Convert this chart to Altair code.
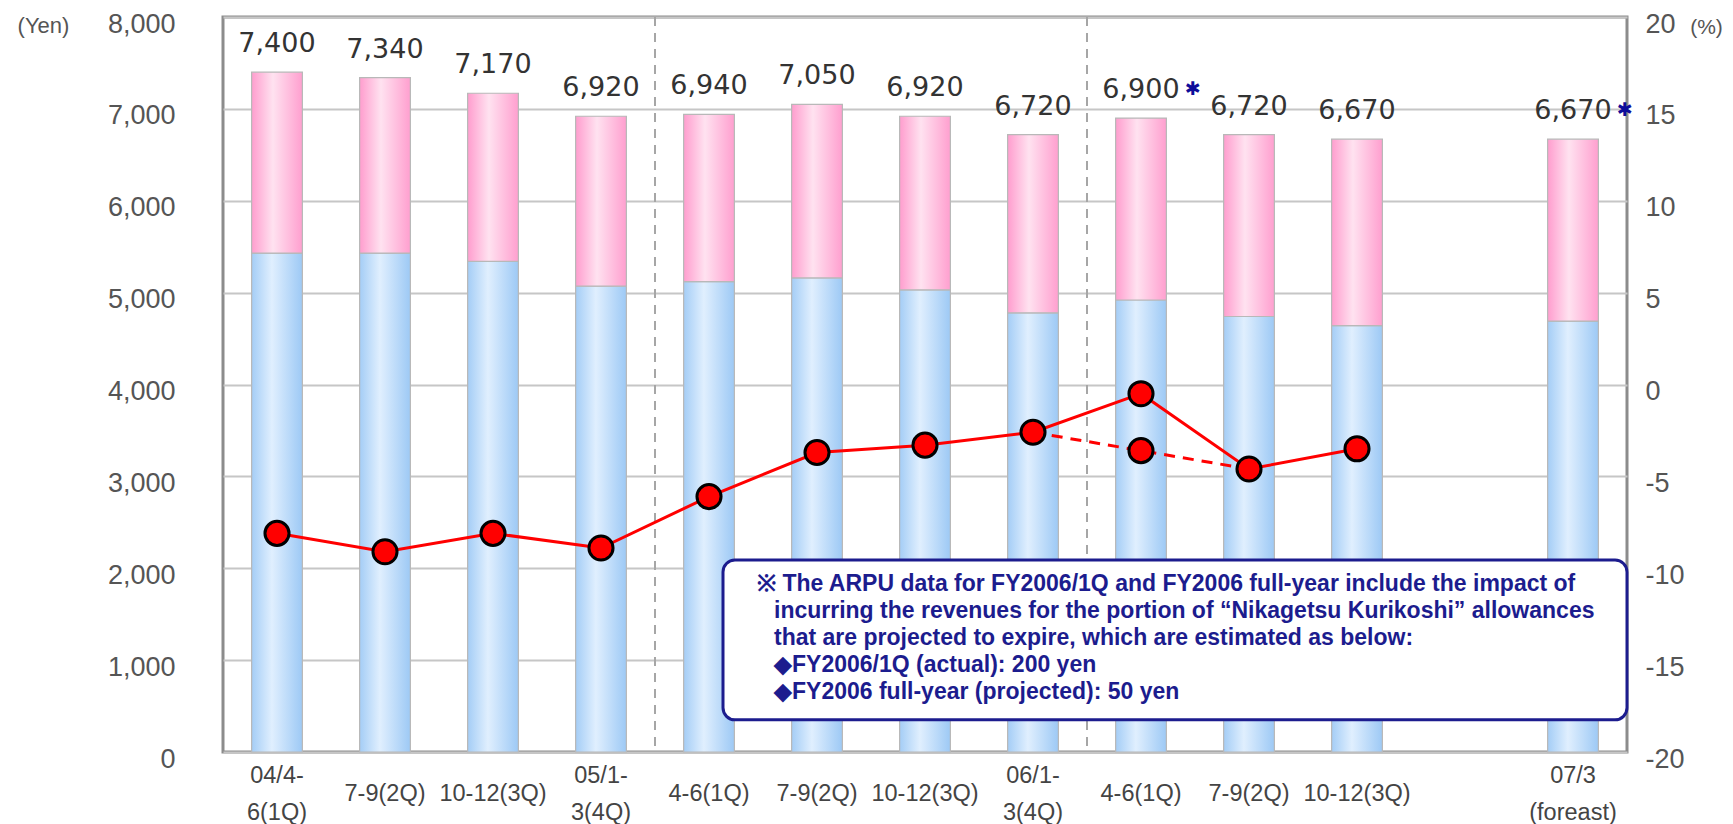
import altair as alt
import pandas as pd

# ---------------- data ----------------
categories = ["04/4-|6(1Q)", "7-9(2Q)", "10-12(3Q)", "05/1-|3(4Q)",
              "4-6(1Q)", "7-9(2Q)", "10-12(3Q)", "06/1-|3(4Q)",
              "4-6(1Q)", "7-9(2Q)", "10-12(3Q)", "", "07/3|(foreast)"]
arpu_total = [7400, 7340, 7170, 6920, 6940, 7050, 6920, 6720, 6900, 6720, 6670, None, 6670]
arpu_base = [5430, 5430, 5340, 5070, 5120, 5160, 5030, 4780, 4920, 4740, 4640, None, 4690]
growth_pct = [-8.1, -9.1, -8.1, -8.9, -6.1, -3.7, -3.3, -2.6, -0.5, -4.6, -3.5, None, None]
adjusted_pct = [None, None, None, None, None, None, None, -2.6, -3.6, -4.6, None, None, None]
starred = [False, False, False, False, False, False, False, False, True, False, False, False, True]
divider_before = [4, 8]
note_lines = [
    "※ The ARPU data for FY2006/1Q and FY2006 full-year include the impact of",
    "incurring the revenues for the portion of “Nikagetsu Kurikoshi” allowances",
    "that are projected to expire, which are estimated as below:",
    "◆FY2006/1Q (actual): 200 yen",
    "◆FY2006 full-year (projected): 50 yen",
]
note_top_yen, note_bottom_yen = 2090, 350

keys = [f"k{i}" for i in range(len(categories))]

# ---------------- layout ----------------
W, H = 1404, 735
STEP = W / len(keys)
FONT = "Liberation Sans"

cat_df = pd.DataFrame({"key": keys, "label": categories})
cat_df = cat_df[cat_df["label"] != ""]

bars = pd.DataFrame({
    "key": keys, "total": arpu_total, "base": arpu_base, "star": starred,
}).dropna(subset=["total"])
bars["label"] = bars["total"].map(lambda v: f"{int(v):,}")

line_df = pd.DataFrame({"key": keys, "pct": growth_pct}).dropna()
dash_df = pd.DataFrame({"key": keys, "pct": adjusted_pct}).dropna()
pts_df = pd.concat([line_df, dash_df.iloc[[1]]], ignore_index=True)
div_df = pd.DataFrame({"key": [keys[i] for i in divider_before]})
note_df = pd.DataFrame({"top": [note_top_yen], "bottom": [note_bottom_yen]})
one = pd.DataFrame({"a": [0]})

xscale = alt.Scale(domain=keys, paddingInner=0.53, paddingOuter=0.265)
yen_scale = alt.Scale(domain=[0, 8000])
pct_scale = alt.Scale(domain=[-20, 20])

yen_axis = alt.Axis(
    values=list(range(0, 8001, 1000)), format=",.0f",
    labelFont=FONT, labelFontSize=27, labelColor="#555", labelPadding=48,
    ticks=False, domain=False, grid=True, gridColor="#c6c6c6",
    gridWidth=2, labelOffset=7,
    title="(Yen)", titleAngle=0, titleX=-180, titleY=8, titleAlign="center",
    titleBaseline="middle", titleFont=FONT, titleFontSize=22,
    titleFontWeight="normal", titleColor="#555",
)
pct_axis = alt.Axis(
    orient="right", values=list(range(-20, 21, 5)),
    labelExpr="'' + datum.value",
    labelFont=FONT, labelFontSize=27, labelColor="#555", labelPadding=18,
    ticks=False, domain=False, grid=False, labelOffset=7,
    title="(%)", titleAngle=0, titleX=79, titleY=10, titleAlign="center",
    titleBaseline="middle", titleFont=FONT, titleFontSize=21,
    titleFontWeight="normal", titleColor="#555",
)

blue_grad = alt.LinearGradient(
    gradient="linear", x1=0, x2=1, y1=0, y2=0,
    stops=[alt.GradientStop(color="#a4cdf6", offset=0),
           alt.GradientStop(color="#e0effe", offset=0.4),
           alt.GradientStop(color="#9dc9f5", offset=1)])
pink_grad = alt.LinearGradient(
    gradient="linear", x1=0, x2=1, y1=0, y2=0,
    stops=[alt.GradientStop(color="#ff9dce", offset=0),
           alt.GradientStop(color="#ffe2f0", offset=0.42),
           alt.GradientStop(color="#ff9fcf", offset=1)])


def X():
    return alt.X("key:N", scale=xscale, axis=None, title=None)


blue = alt.Chart(bars).mark_bar(color=blue_grad, stroke="#b8b8b8", strokeWidth=1.2).encode(
    x=X(), y=alt.Y("base:Q", scale=yen_scale, axis=yen_axis))
pink = alt.Chart(bars).mark_bar(color=pink_grad, stroke="#b8b8b8", strokeWidth=1.2).encode(
    x=X(), y=alt.Y("base:Q", scale=yen_scale, axis=None), y2="total:Q")
labels = alt.Chart(bars).mark_text(
    font="DejaVu Sans", fontSize=27, color="#333", baseline="alphabetic", dy=-20
).encode(x=X(), y=alt.Y("total:Q", scale=yen_scale, axis=None), text="label:N")
stars = alt.Chart(bars).transform_filter("datum.star").mark_text(
    text="✱", font="DejaVu Sans", fontSize=19, color="#0d0d9a",
    baseline="middle", dx=52, dy=-29
).encode(x=X(), y=alt.Y("total:Q", scale=yen_scale, axis=None))
dividers = alt.Chart(div_df).mark_rule(
    color="#a6a6a6", strokeWidth=2, strokeDash=[9, 7], xOffset=-STEP / 2
).encode(x=X())
xlabels_one = alt.Chart(cat_df).transform_filter(
    "indexof(datum.label, '|') < 0"
).mark_text(
    font=FONT, fontSize=23.5, color="#444", baseline="middle"
).encode(x=X(), y=alt.value(H + 42), text="label:N")
xlabels_two = alt.Chart(cat_df).transform_filter(
    "indexof(datum.label, '|') >= 0"
).mark_text(
    font=FONT, fontSize=23.5, color="#444", baseline="middle", lineBreak="|",
    lineHeight=37
).encode(x=X(), y=alt.value(H + 24), text="label:N")
box = alt.Chart(note_df).mark_rect(
    cornerRadius=12, fill="white", stroke="#1c1c8e", strokeWidth=3
).encode(x=alt.value(round(4.63 * STEP)), x2=alt.value(W),
         y=alt.Y("top:Q", scale=yen_scale, axis=None), y2="bottom:Q")

note_marks = []
for i, line in enumerate(note_lines):
    note_marks.append(alt.Chart(one).mark_text(
        text=line, align="left", baseline="middle", font=FONT,
        fontWeight="bold", fontSize=23, color="#1c1c8e"
    ).encode(x=alt.value(round(4.945 * STEP) if i == 0 else round(5.1 * STEP)),
             y=alt.value(567 + 27 * i)))

solid = alt.Chart(line_df).mark_line(color="#ff0000", strokeWidth=3).encode(
    x=X(), y=alt.Y("pct:Q", scale=pct_scale, axis=pct_axis))
dashed = alt.Chart(dash_df).mark_line(color="#ff0000", strokeWidth=3, strokeDash=[11, 8]).encode(
    x=X(), y=alt.Y("pct:Q", scale=pct_scale, axis=None))
points = alt.Chart(pts_df).mark_point(
    shape="circle", filled=True, size=580, fill="#ff0000", stroke="#000000",
    strokeWidth=3, opacity=1, fillOpacity=1
).encode(x=X(), y=alt.Y("pct:Q", scale=pct_scale, axis=None))

chart = alt.layer(
    blue, pink, dividers, labels, stars, xlabels_one, xlabels_two,
    solid, dashed, points, box, *note_marks
).resolve_scale(y="independent").properties(
    width=W, height=H,
    autosize=alt.AutoSizeParams(type="none"),
    padding={"left": 215, "top": 9, "right": 98, "bottom": 72},
    background="white",
).configure_view(stroke="#8c8c8c", strokeWidth=3)

chart.save("out.html", embed_options={"renderer": "svg", "actions": False})
